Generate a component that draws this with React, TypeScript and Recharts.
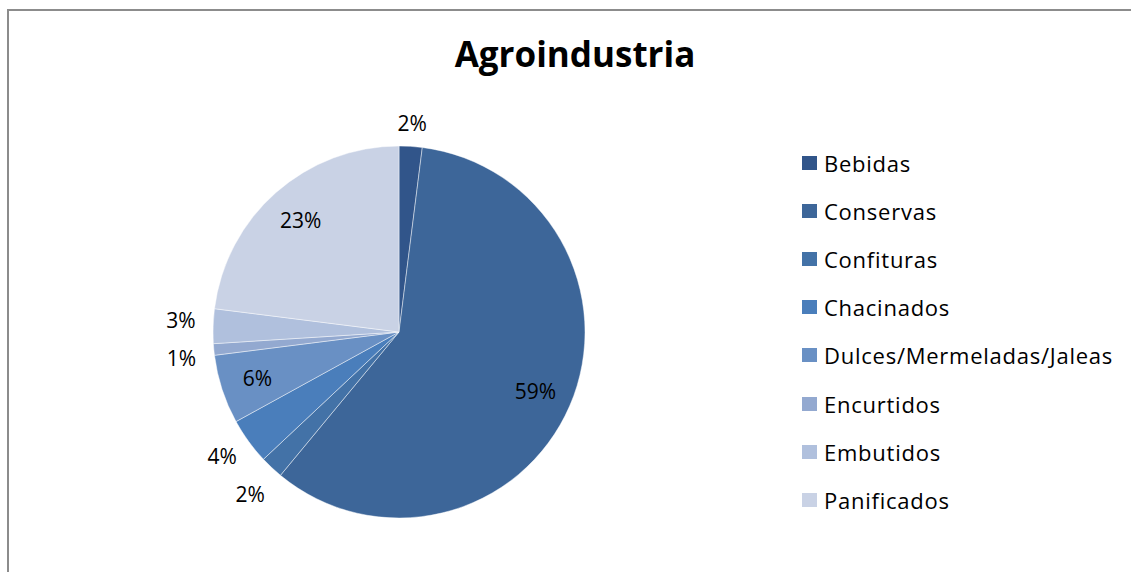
import { PieChart, Pie, Cell, Legend } from 'recharts'

const categories = ['Bebidas', 'Conservas', 'Confituras', 'Chacinados', 'Dulces/Mermeladas/Jaleas', 'Encurtidos', 'Embutidos', 'Panificados']
const shares = [2, 59, 2, 4, 6, 1, 3, 23]
const colors = ['#31558a', '#3d6699', '#4372a7', '#4a7ebb', '#6990c4', '#93a9d0', '#b0c0dd', '#c9d2e5']

const chartData = categories.map((name, i) => ({ name, value: shares[i] }))

const FONT = '"Open Sans", Lato, sans-serif'
const RAD = Math.PI / 180
const LABEL_SIZE = 21
const MIN_GAP = 38

// where each percentage label goes: big slices inside, small ones outside, pushed apart like Excel does
const layoutLabels = (cx: number, cy: number, R: number) => {
  const total = shares.reduce((a, b) => a + b, 0)
  let cum = 0
  const pos = shares.map((v) => {
    const mid = ((cum + v / 2) / total) * 360 // clockwise from 12 o'clock
    cum += v
    const sx = Math.sin(mid * RAD)
    const sy = -Math.cos(mid * RAD)
    const inside = v >= 5
    let r: number
    if (inside) {
      r = R * 0.8
    } else {
      const halfW = `${v}%`.length * 8
      const halfH = 6
      r = R + 16 + halfW * Math.abs(sx) + halfH * Math.abs(sy)
    }
    return { x: cx + r * sx, y: cy + r * sy, inside }
  })
  const left = pos.map((p, i) => ({ p, i })).filter((o) => !o.p.inside && o.p.x < cx).sort((a, b) => a.p.y - b.p.y)
  for (let k = 1; k < left.length; k++) {
    const a = left[k - 1].p
    const b = left[k].p
    const gap = b.y - a.y
    if (gap < MIN_GAP) {
      const d = (MIN_GAP - gap) / 2
      a.y -= d
      b.y += d
    }
  }
  return pos
}

const renderLabel = (props: any) => {
  const { cx, cy, outerRadius, value, index } = props
  const p = layoutLabels(cx, cy, outerRadius)[index]
  return (
    <text x={p.x} y={p.y} fill="#000" fontSize={LABEL_SIZE} fontFamily={FONT} textAnchor="middle" dominantBaseline="central">
      {`${value}%`}
    </text>
  )
}

const LegendBox = ({ payload }: { payload?: any[] }) => {
  const items = [...(payload ?? [])].sort((a, b) => categories.indexOf(a.value) - categories.indexOf(b.value))
  return (
    <div style={{ fontFamily: FONT, fontSize: 22, letterSpacing: 0.75, color: '#000' }}>
      {items.map((p, i) => (
        <div key={i} style={{ display: 'flex', alignItems: 'center', height: 48.1, whiteSpace: 'nowrap' }}>
          <span style={{ width: 15, height: 14, background: p.color, marginRight: 7, display: 'inline-block', flex: 'none' }} />
          <span>{p.value}</span>
        </div>
      ))}
    </div>
  )
}

export default function App() {
  return (
    <div style={{ position: 'absolute', left: 0, top: 0, width: 1131, height: 572, overflow: 'hidden', background: '#fff' }}>
      <div style={{ position: 'absolute', left: 7, top: 9, width: 1124, height: 2, background: '#8c8c8c' }} />
      <div style={{ position: 'absolute', left: 7, top: 9, width: 2, height: 563, background: '#8c8c8c' }} />
      <div style={{ position: 'absolute', left: 0, width: 1150, top: 31, textAlign: 'center', fontFamily: FONT, fontWeight: 700, fontSize: 35, color: '#000', lineHeight: '46px' }}>
        Agroindustria
      </div>
      <div style={{ position: 'absolute', left: 0, top: 0 }}>
        <PieChart width={1131} height={572} margin={{ top: 0, right: 0, bottom: 0, left: 0 }}>
          <Pie
            data={chartData}
            dataKey="value"
            nameKey="name"
            cx={399}
            cy={332}
            outerRadius={186}
            startAngle={90}
            endAngle={-270}
            stroke="#ffffff"
            strokeOpacity={0.6}
            strokeWidth={0.75}
            label={renderLabel}
            labelLine={false}
            isAnimationActive={false}
          >
            {chartData.map((d, i) => <Cell key={d.name} fill={colors[i]} />)}
          </Pie>
          <Legend
            layout="vertical"
            content={<LegendBox />}
            wrapperStyle={{ left: 802, top: 139, width: 329 }}
          />
        </PieChart>
      </div>
    </div>
  )
}
